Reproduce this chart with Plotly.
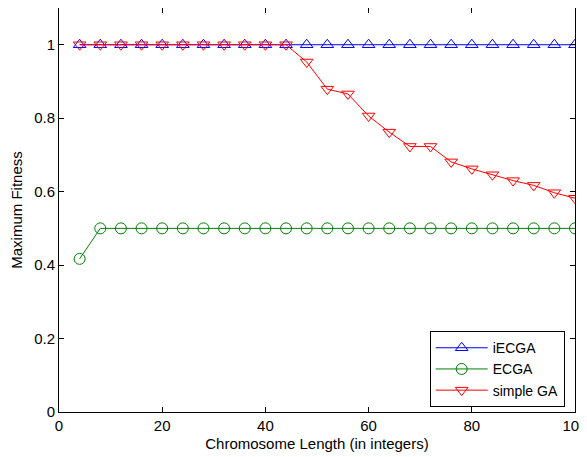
import plotly.graph_objects as go

x_vals = [4, 8, 12, 16, 20, 24, 28, 32, 36, 40, 44, 48, 52, 56, 60, 64, 68, 72, 76, 80, 84, 88, 92, 96, 100]
iecga = [1.0] * 25
ecga = [0.417] + [0.5] * 24
simple_ga = [1.0, 1.0, 1.0, 1.0, 1.0, 1.0, 1.0, 1.0, 1.0, 1.0, 1.0,
             0.953, 0.879, 0.866, 0.806, 0.762, 0.723, 0.723, 0.681, 0.662,
             0.646, 0.630, 0.617, 0.597, 0.582]

x_ticks = [0, 20, 40, 60, 80, 100]
y_ticks = [0, 0.2, 0.4, 0.6, 0.8, 1]
y_tick_labels = ["0", "0.2", "0.4", "0.6", "0.8", "1"]

FONT = "Liberation Sans, Arial, sans-serif"

fig = go.Figure()
fig.add_trace(go.Scatter(x=x_vals, y=iecga, name="iECGA", mode="lines+markers",
                         line=dict(color="#0000ff", width=1),
                         marker=dict(symbol="triangle-up-open", size=11, color="#0000ff", line=dict(width=1))))
fig.add_trace(go.Scatter(x=x_vals, y=ecga, name="ECGA", mode="lines+markers",
                         line=dict(color="#008000", width=1),
                         marker=dict(symbol="circle-open", size=11, color="#008000", line=dict(width=1))))
fig.add_trace(go.Scatter(x=x_vals, y=simple_ga, name="simple GA", mode="lines+markers",
                         line=dict(color="#ff0000", width=1),
                         marker=dict(symbol="triangle-down-open", size=11, color="#ff0000", line=dict(width=1))))

axis_common = dict(showline=True, linecolor="black", linewidth=1, mirror="ticks",
                   ticks="inside", ticklen=5, tickcolor="black", showgrid=False, zeroline=False,
                   ticklabeloverflow="allow",
                   tickfont=dict(family=FONT, size=15, color="black"))

fig.update_layout(
    width=579, height=449,
    margin=dict(l=51, r=12, t=0, b=45, autoexpand=False),
    paper_bgcolor="white", plot_bgcolor="white",
    font=dict(family=FONT, size=15, color="black"),
    xaxis=dict(range=[0, 100], tickvals=x_ticks,
               title=dict(text="Chromosome Length (in integers)", standoff=5, font=dict(size=15)),
               **axis_common),
    yaxis=dict(range=[0, 1.1], tickvals=y_ticks, ticktext=y_tick_labels,
               title=dict(text="Maximum Fitness", standoff=8, font=dict(size=15)),
               **axis_common),
    legend=dict(x=0.98, y=0.012, xanchor="right", yanchor="bottom",
                bordercolor="black", borderwidth=1, bgcolor="white",
                font=dict(size=14), tracegroupgap=0, itemwidth=52),
    showlegend=True,
)

fig.write_html("out.html")
